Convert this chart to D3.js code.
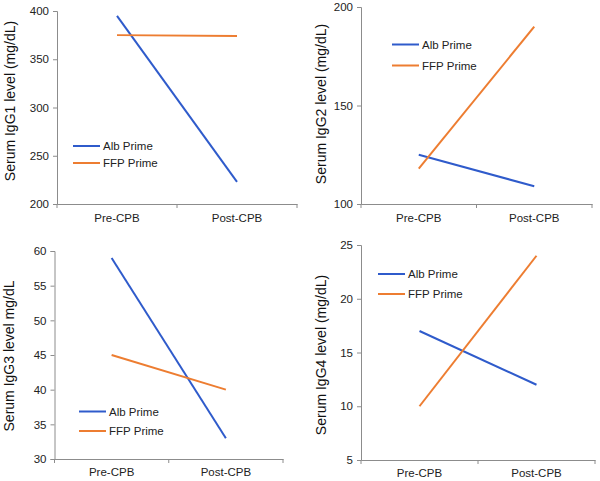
<!DOCTYPE html>
<html><head><meta charset="utf-8">
<script src="https://cdn.jsdelivr.net/npm/d3@7"></script>
<style>body{margin:0;background:#fff}svg{display:block}</style>
</head><body>
<svg id="c" width="600" height="481"></svg>
<script>
const categories = ["Pre-CPB", "Post-CPB"];
const seriesNames = ["Alb Prime", "FFP Prime"];
const igg1Alb = [395, 223];
const igg1FFP = [375, 374];
const igg2Alb = [125, 109];
const igg2FFP = [118, 190];
const igg3Alb = [59, 33];
const igg3FFP = [45, 40];
const igg4Alb = [17, 12];
const igg4FFP = [10, 24];
const igg1Ticks = [200, 250, 300, 350, 400];
const igg2Ticks = [100, 150, 200];
const igg3Ticks = [30, 35, 40, 45, 50, 55, 60];
const igg4Ticks = [5, 10, 15, 20, 25];
const yLabels = ["Serum IgG1 level (mg/dL)", "Serum IgG2 level (mg/dL)", "Serum IgG3 level mg/dL", "Serum IgG4 level (mg/dL)"];

const colors = ["#2F5BCB", "#ED7D31"];
const font = "Liberation Sans, Arial, sans-serif";
const axisColor = "#8c8c8c";

const panels = [
  {series: [igg1Alb, igg1FFP], ticks: igg1Ticks, label: yLabels[0],
   x0: 57, x1: 297, yTop: 11, yBot: 204, legX: 73, legY: 146, legGap: 17, labX: 10, labY: 101, pad: 10},
  {series: [igg2Alb, igg2FFP], ticks: igg2Ticks, label: yLabels[1],
   x0: 361, x1: 592, yTop: 7, yBot: 204, legX: 392, legY: 44.5, legGap: 21, labX: 321, labY: 104, pad: 10},
  {series: [igg3Alb, igg3FFP], ticks: igg3Ticks, label: yLabels[2],
   x0: 54.5, x1: 283, yTop: 251, yBot: 459, legX: 79, legY: 411.5, legGap: 19.5, labX: 9, labY: 356, pad: 9},
  {series: [igg4Alb, igg4FFP], ticks: igg4Ticks, label: yLabels[3],
   x0: 361, x1: 595, yTop: 245, yBot: 460, legX: 378, legY: 274, legGap: 20, labX: 321, labY: 355, pad: 9}
];

const svg = d3.select("#c");

panels.forEach(p => {
  const g = svg.append("g");
  const x = d3.scaleBand().domain(categories).range([p.x0, p.x1]);
  const y = d3.scaleLinear().domain(d3.extent(p.ticks)).range([p.yBot, p.yTop]);

  // y axis
  const ya = g.append("g").attr("transform", `translate(${p.x0},0)`)
    .call(d3.axisLeft(y).tickValues(p.ticks).tickSize(4).tickPadding(4).tickFormat(d3.format("d")));
  ya.select(".domain").attr("stroke", axisColor);
  ya.selectAll(".tick line").attr("stroke", axisColor);
  ya.selectAll("text").attr("font-family", font).attr("font-size", 11.5).attr("fill", "#222");

  // x axis
  const xa = g.append("g").attr("transform", `translate(0,${p.yBot})`)
    .call(d3.axisBottom(x).tickSize(0).tickPadding(p.pad).tickSizeOuter(0));
  xa.select(".domain").attr("stroke", axisColor);
  xa.selectAll("text").attr("font-family", font).attr("font-size", 11.5).attr("fill", "#222");
  // boundary ticks
  const bounds = [p.x0, p.x0 + x.bandwidth(), p.x1];
  g.selectAll(".bt").data(bounds).join("line")
    .attr("x1", d => d).attr("x2", d => d)
    .attr("y1", p.yBot).attr("y2", p.yBot + 4)
    .attr("stroke", axisColor);

  // lines
  const line = d3.line().x((d, i) => x(categories[i]) + x.bandwidth() / 2).y(d => y(d));
  p.series.forEach((s, i) => {
    g.append("path").datum(s).attr("d", line)
      .attr("fill", "none").attr("stroke", colors[i]).attr("stroke-width", 2);
  });

  // legend
  seriesNames.forEach((n, i) => {
    const ly = p.legY + i * p.legGap;
    g.append("line").attr("x1", p.legX).attr("x2", p.legX + 27)
      .attr("y1", ly).attr("y2", ly).attr("stroke", colors[i]).attr("stroke-width", 2);
    g.append("text").attr("x", p.legX + 30).attr("y", ly).attr("dy", "0.35em")
      .attr("font-family", font).attr("font-size", 11.5).attr("fill", "#222").text(n);
  });

  // y label
  g.append("text").attr("transform", `translate(${p.labX},${p.labY}) rotate(-90)`)
    .attr("text-anchor", "middle").attr("dy", "0.35em")
    .attr("font-family", font).attr("font-size", 14).attr("fill", "#111").text(p.label);
});
</script>
</body></html>
